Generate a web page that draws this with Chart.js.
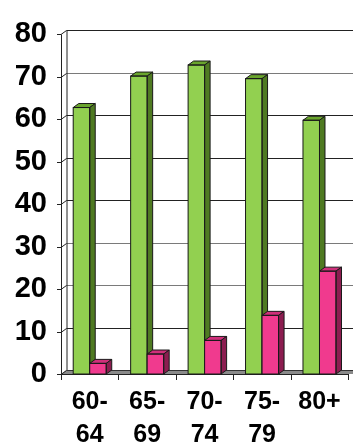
<!DOCTYPE html>
<html>
<head>
<meta charset="utf-8">
<script src="https://cdn.jsdelivr.net/npm/chart.js@4/dist/chart.umd.min.js"></script>
<style>
  html, body { margin: 0; padding: 0; background: #fff; }
  #wrap { width: 353px; height: 445px; }
</style>
</head>
<body>
<div id="wrap"><canvas id="c" width="353" height="445"></canvas></div>
<script>
// Age groups (two-line labels) and the two series
const categories = [['60-', '64'], ['65-', '69'], ['70-', '74'], ['75-', '79'], ['80+', '']];
const greenValues = [62.7, 70.1, 72.7, 69.5, 59.7];
const pinkValues = [2.5, 4.7, 7.9, 13.8, 24.2];
const yTicks = [0, 10, 20, 30, 40, 50, 60, 70, 80];

// depth of the pseudo-3D effect
const DX = 5.5, DY = -4;

const faceColors = [
  { front: '#92d050', top: '#6aa52d', side: '#4f7a22' },
  { front: '#f03a8e', top: '#cf2f7a', side: '#8c1d50' }
];

function line(ctx, x1, y1, x2, y2) {
  ctx.beginPath(); ctx.moveTo(x1, y1); ctx.lineTo(x2, y2); ctx.stroke();
}

const wallPlugin = {
  id: 'wall3d',
  beforeDatasetsDraw(chart) {
    const { ctx, chartArea: a, scales } = chart;
    const y = scales.y;
    ctx.save();
    ctx.lineWidth = 1;
    // floor
    const base = y.getPixelForValue(0);
    ctx.fillStyle = '#8a8a8a';
    ctx.beginPath();
    ctx.moveTo(a.left, base);
    ctx.lineTo(chart.width + 10, base);
    ctx.lineTo(chart.width + 10, base + DY);
    ctx.lineTo(a.left + DX, base + DY);
    ctx.closePath();
    ctx.fill();
    ctx.strokeStyle = '#333';
    line(ctx, a.left + DX, base + DY + 0.5, chart.width, base + DY + 0.5);
    // back wall gridlines and connectors to front ticks
    yTicks.forEach(v => {
      const py = Math.round(y.getPixelForValue(v)) + 0.5;
      ctx.strokeStyle = (v === 70 || v === 30 || v === 20) ? '#7a7a7a' : '#222';
      if (v > 0) line(ctx, a.left + DX, py + DY, chart.width, py + DY);
      ctx.strokeStyle = '#222';
      line(ctx, a.left, py, a.left + DX, py + DY);
      line(ctx, a.left - 4, py, a.left, py);
    });
    // back wall left edge
    const top = Math.round(y.getPixelForValue(80)) + 0.5;
    ctx.strokeStyle = '#222';
    line(ctx, a.left + DX + 0.5, top + DY, a.left + DX + 0.5, base + DY);
    // front value axis
    line(ctx, a.left + 0.5, top, a.left + 0.5, base);
    // front category axis and its tick marks at category boundaries
    line(ctx, a.left, base + 0.5, a.right, base + 0.5);
    const n = categories.length;
    const w = (a.right - a.left) / n;
    for (let i = 0; i <= n; i++) {
      const px = Math.round(a.left + i * w) + 0.5;
      line(ctx, px, base, px, base + 6);
    }
    ctx.restore();
  },
  // faces of every box, drawn series by series so the later series overlaps the earlier one
  afterDatasetsDraw(chart) {
    const { ctx } = chart;
    ctx.save();
    ctx.lineWidth = 1;
    ctx.strokeStyle = '#1a1a1a';
    chart.data.datasets.forEach((ds, di) => {
      const meta = chart.getDatasetMeta(di);
      const cols = faceColors[di];
      meta.data.forEach(bar => {
        const p = bar.getProps(['x', 'y', 'base', 'width'], true);
        const x1 = p.x - p.width / 2, x2 = p.x + p.width / 2;
        const t = p.y, b = p.base;
        // front face
        ctx.fillStyle = cols.front;
        ctx.fillRect(x1, t, x2 - x1, b - t);
        // top face
        ctx.fillStyle = cols.top;
        ctx.beginPath();
        ctx.moveTo(x1, t); ctx.lineTo(x2, t); ctx.lineTo(x2 + DX, t + DY); ctx.lineTo(x1 + DX, t + DY);
        ctx.closePath(); ctx.fill(); ctx.stroke();
        // side face
        ctx.fillStyle = cols.side;
        ctx.beginPath();
        ctx.moveTo(x2, t); ctx.lineTo(x2 + DX, t + DY); ctx.lineTo(x2 + DX, b + DY); ctx.lineTo(x2, b);
        ctx.closePath(); ctx.fill(); ctx.stroke();
        // front outline
        ctx.strokeRect(x1, t, x2 - x1, b - t);
      });
    });
    ctx.restore();
  }
};

new Chart(document.getElementById('c'), {
  type: 'bar',
  data: {
    labels: categories,
    datasets: [
      { data: greenValues, backgroundColor: faceColors[0].front, borderWidth: 0,
        barPercentage: 1, categoryPercentage: 0.575 },
      { data: pinkValues, backgroundColor: faceColors[1].front, borderWidth: 0,
        barPercentage: 1, categoryPercentage: 0.575 }
    ]
  },
  options: {
    responsive: false,
    animation: false,
    layout: { padding: { top: 34, right: 3, left: 0, bottom: 0 } },
    plugins: { legend: { display: false }, tooltip: { enabled: false } },
    scales: {
      x: {
        grid: { display: false, drawTicks: false },
        border: { display: false },
        ticks: {
          color: '#000', padding: 12, maxRotation: 0, autoSkip: false,
          font: { family: 'Liberation Sans, Arial, sans-serif', size: 25, weight: 'bold', lineHeight: 1.3 }
        },
        afterFit: s => { s.height = 71; }
      },
      y: {
        min: 0, max: 80,
        grid: { display: false, drawTicks: false },
        border: { display: false },
        ticks: {
          stepSize: 10, color: '#000', padding: 14,
          font: { family: 'Liberation Sans, Arial, sans-serif', size: 29, weight: 'bold' }
        },
        afterFit: s => { s.width = 61; }
      }
    }
  },
  plugins: [wallPlugin]
});
</script>
</body>
</html>
